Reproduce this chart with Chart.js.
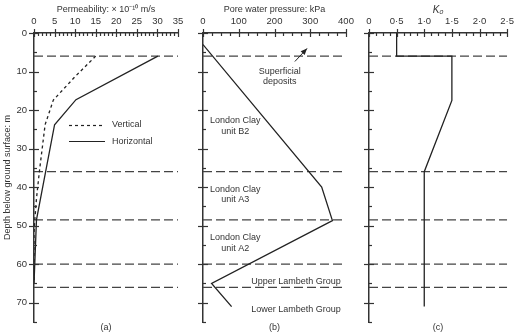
<!DOCTYPE html>
<html><head><meta charset="utf-8">
<script src="https://cdn.jsdelivr.net/npm/chart.js@4.4.1/dist/chart.umd.min.js"></script>
<style>
html,body{margin:0;padding:0;background:#fff;}
#wrap{position:relative;width:520px;height:335px;}
#wrap canvas{position:absolute;left:0;top:0;}
</style></head><body>
<div id="wrap">
<canvas id="ca" width="520" height="335"></canvas>
<canvas id="cb" width="520" height="335"></canvas>
<canvas id="cc" width="520" height="335"></canvas>
</div>
<script>
// ---- data ----
const boundaries = [6, 36, 48.5, 60, 66]; // depth of stratum boundaries, m
const depthTicks = [0, 10, 20, 30, 40, 50, 60, 70];

const permVertical = [
  {x:15, y:6}, {x:10, y:11.3}, {x:4.7, y:17.4}, {x:2.7, y:23.8},
  {x:1.3, y:36}, {x:0.6, y:43}, {x:0.2, y:48.5}, {x:0, y:52}, {x:0, y:65}
];
const permHorizontal = [
  {x:30.1, y:6}, {x:10.2, y:17.3}, {x:5, y:23.8}, {x:0.6, y:48.5}, {x:0, y:65}
];
const poreWater = [
  {x:0, y:3}, {x:332, y:40}, {x:362, y:48.7}, {x:24, y:65}, {x:80, y:71}
];
const k0 = [
  {x:0.5, y:0}, {x:0.5, y:6}, {x:1.5, y:6}, {x:1.5, y:17.5}, {x:1.0, y:36}, {x:1.0, y:71}
];

const permTickLabels = ['0','5','10','15','20','25','30','35'];
const poreTickLabels = ['0','100','200','300','400'];
const k0TickLabels = ['0','0·5','1·0','1·5','2·0','2·5'];

const strataLabels = [
  {lines:['Superficial','deposits'], x:215, y:[10.1, 12.5]},
  {lines:['London Clay','unit B2'], x:90, y:[22.6, 25.6]},
  {lines:['London Clay','unit A3'], x:90, y:[40.5, 43.3]},
  {lines:['London Clay','unit A2'], x:90, y:[53, 55.8]},
  {lines:['Upper Lambeth Group'], x:260, y:[64.5]},
  {lines:['Lower Lambeth Group'], x:260, y:[71.7]}
];
const arrowFrom = {x:257, y:7.4};
const arrowTo = {x:291, y:4.0};

// ---- styling ----
const FONT = 'Liberation Sans, Arial, Helvetica, sans-serif';
const FS = 9;
const INK = '#222';
const TXT = '#333';
Chart.defaults.font.family = FONT;
Chart.defaults.color = TXT;

function boundarySets(xmin, xmax){
  return boundaries.map(d => ({
    data:[{x:xmin,y:d},{x:xmax,y:d}],
    borderColor:'#444', borderWidth:1.2, borderDash:[9,4], pointRadius:0, fill:false
  }));
}

const tickPlugin = {
  id:'tickMarks',
  afterDraw(chart, args, opts){
    const ctx = chart.ctx, xs = chart.scales.x, ys = chart.scales.y;
    const top = chart.chartArea.top, left = chart.chartArea.left;
    ctx.save();
    ctx.strokeStyle = '#333';
    ctx.lineWidth = 1.2;
    for (let v = xs.min; v <= xs.max + 1e-9; v += opts.minor) {
      const px = Math.round(xs.getPixelForValue(v)) + 0.5;
      const isMajor = Math.abs(v / opts.major - Math.round(v / opts.major)) < 1e-6;
      ctx.beginPath();
      if (isMajor) { ctx.moveTo(px, top - 4); ctx.lineTo(px, top + 4); }
      else { ctx.moveTo(px, top); ctx.lineTo(px, top + 3); }
      ctx.stroke();
    }
    for (let v = 0; v <= 75; v += 5) {
      const py = Math.round(ys.getPixelForValue(v)) + 0.5;
      ctx.beginPath();
      if (v % 10 === 0) { ctx.moveTo(left - 5, py); ctx.lineTo(left + 5, py); }
      else { ctx.moveTo(left, py); ctx.lineTo(left + 3, py); }
      ctx.stroke();
    }
    ctx.fillStyle = TXT;
    ctx.font = FS + 'px ' + FONT;
    ctx.textAlign = 'center';
    ctx.textBaseline = 'middle';
    ctx.fillText(opts.label, (chart.chartArea.left + chart.chartArea.right) / 2, 328);
    ctx.restore();
  }
};

const legendPlugin = {
  id:'customLegend',
  afterDraw(chart){
    const ctx = chart.ctx;
    ctx.save();
    ctx.strokeStyle = INK; ctx.lineWidth = 1.2;
    ctx.setLineDash([3,3]);
    ctx.beginPath(); ctx.moveTo(69,125.5); ctx.lineTo(104,125.5); ctx.stroke();
    ctx.setLineDash([]);
    ctx.beginPath(); ctx.moveTo(69,141.5); ctx.lineTo(105,141.5); ctx.stroke();
    ctx.fillStyle = TXT; ctx.font = FS + 'px ' + FONT;
    ctx.textAlign = 'left'; ctx.textBaseline = 'middle';
    ctx.fillText('Vertical', 112, 125);
    ctx.fillText('Horizontal', 112, 142);
    ctx.restore();
  }
};

const annotPlugin = {
  id:'strata',
  afterDraw(chart){
    const ctx = chart.ctx, xs = chart.scales.x, ys = chart.scales.y;
    ctx.save();
    ctx.fillStyle = TXT; ctx.font = FS + 'px ' + FONT;
    ctx.textAlign = 'center'; ctx.textBaseline = 'middle';
    strataLabels.forEach(s => {
      s.lines.forEach((t, i) => ctx.fillText(t, xs.getPixelForValue(s.x), ys.getPixelForValue(s.y[i])));
    });
    const x1 = xs.getPixelForValue(arrowFrom.x), y1 = ys.getPixelForValue(arrowFrom.y);
    const x2 = xs.getPixelForValue(arrowTo.x), y2 = ys.getPixelForValue(arrowTo.y);
    ctx.strokeStyle = INK; ctx.lineWidth = 1;
    ctx.beginPath(); ctx.moveTo(x1,y1); ctx.lineTo(x2,y2); ctx.stroke();
    const a = Math.atan2(y2 - y1, x2 - x1), L = 7, w = 0.4;
    ctx.fillStyle = INK;
    ctx.beginPath();
    ctx.moveTo(x2, y2);
    ctx.lineTo(x2 - L*Math.cos(a - w), y2 - L*Math.sin(a - w));
    ctx.lineTo(x2 - L*Math.cos(a + w), y2 - L*Math.sin(a + w));
    ctx.closePath(); ctx.fill();
    ctx.restore();
  }
};

function makePanel(id, cfg){
  const yAxis = {
    type:'linear', reverse:true, min:0, max:75,
    afterBuildTicks(s){ s.ticks = depthTicks.map(v => ({value:v})); },
    afterFit(s){ s.width = cfg.yWidth; },
    grid:{display:false, drawTicks:false},
    border:{display:true, color:'#333', width:1.5},
    ticks:{display:cfg.showY, padding:7, font:{size:FS+0.5}, color:TXT},
    title:{display:cfg.showY, text:'Depth below ground surface: m', font:{size:FS}, color:TXT, padding:{top:2,bottom:2}}
  };
  const xAxis = {
    type:'linear', position:'top', min:cfg.xmin, max:cfg.xmax,
    afterBuildTicks(s){ s.ticks = cfg.tickLabels.map((t,i) => ({value: cfg.xmin + i*cfg.major})); },
    afterFit(s){ s.height = 33; },
    grid:{display:false, drawTicks:false},
    border:{display:true, color:'#333', width:1.5},
    ticks:{padding:6, font:{size:FS+0.5}, color:TXT, maxRotation:0, autoSkip:false,
      callback:(v,i) => cfg.tickLabels[i]},
    title:{display:true, text:cfg.title, font:{size:cfg.titleSize||FS, style:cfg.titleStyle||'normal'}, color:TXT, padding:{top:4,bottom:0}}
  };
  const datasets = cfg.series.concat(boundarySets(cfg.xmin, cfg.xmax));
  return new Chart(document.getElementById(id), {
    type:'line',
    data:{datasets},
    options:{
      responsive:false, animation:false, devicePixelRatio:1,
      layout:{padding:cfg.padding},
      scales:{x:xAxis, y:yAxis},
      plugins:{legend:{display:false}, tooltip:{enabled:false},
        tickMarks:{major:cfg.major, minor:cfg.minor, label:cfg.label}},
      elements:{line:{tension:0}, point:{radius:0}}
    },
    plugins:[tickPlugin].concat(cfg.extra||[])
  });
}

makePanel('ca', {
  xmin:0, xmax:35, major:5, minor:1, tickLabels:permTickLabels,
  title:'Permeability: × 10⁻¹⁰ m/s', showY:true, yWidth:34,
  padding:{left:0, top:0, right:342, bottom:13}, label:'(a)',
  series:[
    {data:permVertical, borderColor:INK, borderWidth:1.3, borderDash:[3,3], pointRadius:0},
    {data:permHorizontal, borderColor:INK, borderWidth:1.3, pointRadius:0}
  ],
  extra:[legendPlugin]
});

makePanel('cb', {
  xmin:0, xmax:400, major:100, minor:25, tickLabels:poreTickLabels,
  title:'Pore water pressure: kPa', showY:false, yWidth:0,
  padding:{left:203, top:0, right:174, bottom:13}, label:'(b)',
  series:[{data:poreWater, borderColor:INK, borderWidth:1.3, pointRadius:0}],
  extra:[annotPlugin]
});

makePanel('cc', {
  xmin:0, xmax:2.5, major:0.5, minor:0.125, tickLabels:k0TickLabels,
  title:'K₀', titleStyle:'italic', titleSize:10, showY:false, yWidth:0,
  padding:{left:369, top:0, right:7, bottom:13}, label:'(c)',
  series:[{data:k0, borderColor:INK, borderWidth:1.3, pointRadius:0}]
});
</script>
</body></html>
